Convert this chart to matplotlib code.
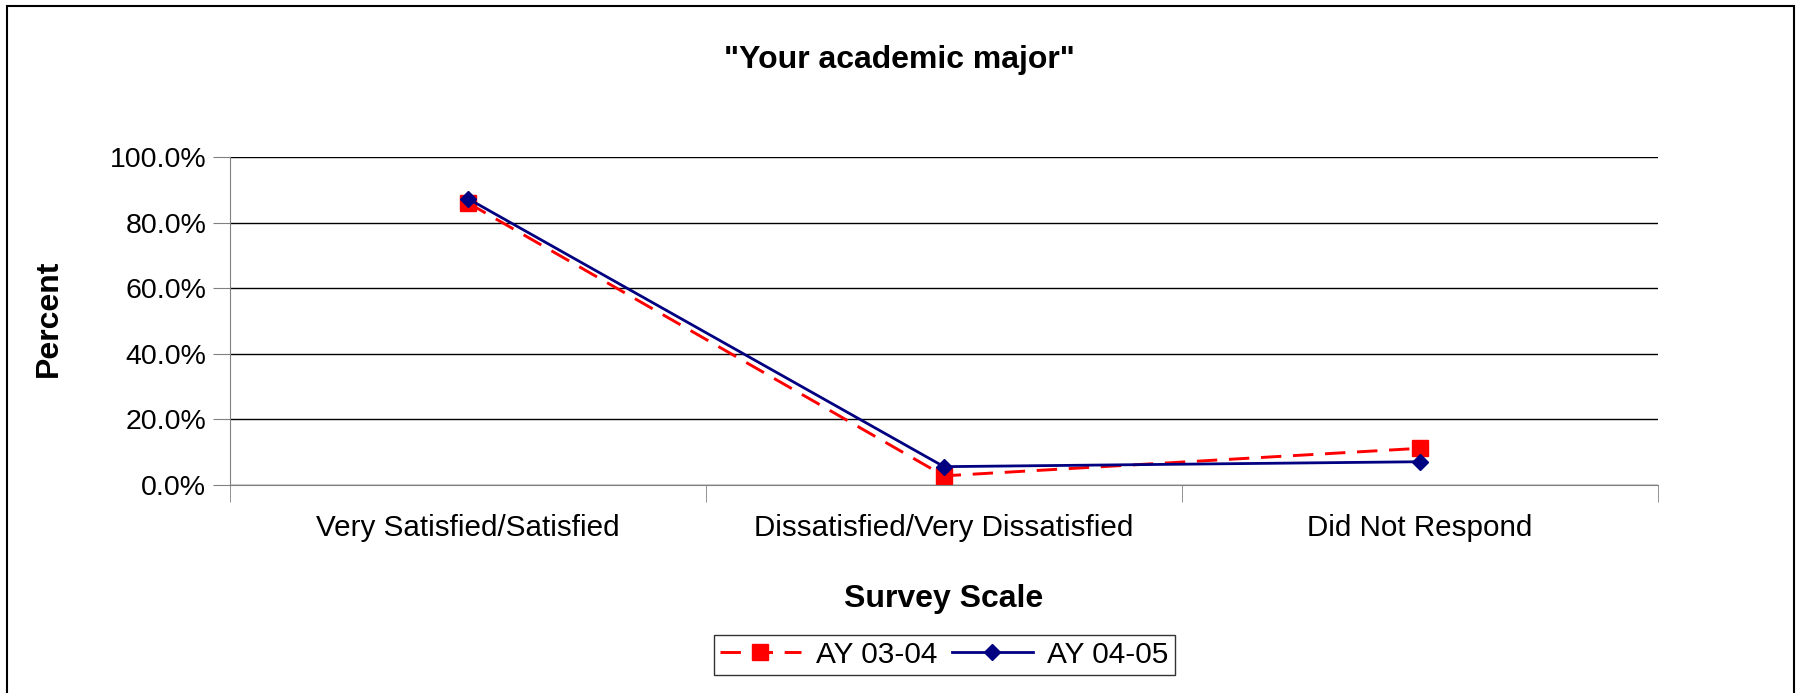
''' Survey chart: "Your academic major" '''

import matplotlib
matplotlib.use('Agg')
import matplotlib.pyplot as plt
from matplotlib.patches import Rectangle
from matplotlib.ticker import FuncFormatter, FixedLocator

categories = ['Very Satisfied/Satisfied', 'Dissatisfied/Very Dissatisfied', 'Did Not Respond']
ay_03_04 = [86.0, 2.8, 11.2]
ay_04_05 = [87.3, 5.6, 7.1]

plt.rcParams['font.family'] = ['Liberation Sans', 'DejaVu Sans']


def plot_data():
    fig = plt.figure(figsize=(17.99, 6.93), dpi=100)
    ax = fig.add_axes([0.1278, 0.3001, 0.7938, 0.4734])

    x = list(range(len(categories)))

    # Gridlines first so the lines sit on top
    ax.set_ylim(0, 100)
    ax.set_xlim(-0.5, len(categories) - 0.5)
    ax.set_yticks([0, 20, 40, 60, 80, 100])
    ax.yaxis.grid(True, color='black', linewidth=1.0)
    ax.set_axisbelow(True)

    ax.plot(x, ay_03_04, color='#FF0000', linestyle=(0, (7, 4)), linewidth=2.1,
            marker='s', markersize=11, markeredgecolor='#FF0000', label='AY 03-04')
    ax.plot(x, ay_04_05, color='#000080', linewidth=2.0,
            marker='D', markersize=8, markeredgecolor='#000080', label='AY 04-05')

    ax.yaxis.set_major_formatter(FuncFormatter(lambda v, p: '%.1f%%' % v))
    ax.set_xticks(x)
    ax.set_xticklabels(categories)
    ax.tick_params(axis='x', length=0, labelsize=21.3, pad=21)
    ax.xaxis.set_minor_locator(FixedLocator([-0.5, 0.5, 1.5, 2.5]))
    ax.tick_params(axis='x', which='minor', length=12, direction='out', color='#808080')
    ax.tick_params(axis='y', length=12, direction='out', labelsize=20.5, color='#808080', pad=5)

    for side in ['top', 'right']:
        ax.spines[side].set_visible(False)
    ax.spines['left'].set_color('#808080')
    ax.spines['bottom'].set_color('#808080')

    plot_center = 0.1278 + 0.7938 / 2
    fig.text(0.5, 0.913, '"Your academic major"', ha='center', va='center',
             fontsize=23, fontweight='bold')
    fig.text(plot_center, 0.136, 'Survey Scale', ha='center', va='center',
             fontsize=23, fontweight='bold')
    fig.text(0.027, 0.54, 'Percent', ha='center', va='center', rotation=90,
             fontsize=23, fontweight='bold')

    leg = fig.legend(loc='center', bbox_to_anchor=(0.525, 0.055), ncol=2,
                     fontsize=21.5, frameon=True, fancybox=False, handlelength=2.7,
                     columnspacing=0.5, handletextpad=0.5, borderpad=0.2,
                     borderaxespad=0)
    leg.get_frame().set_edgecolor('black')
    leg.get_frame().set_linewidth(1.0)

    # Outer chart border (bottom edge falls outside the picture)
    fig.patches.append(Rectangle((0.004, -0.05), 0.993, 1.041, transform=fig.transFigure,
                                 fill=False, edgecolor='black', linewidth=1.5))

    plt.savefig('out.png', dpi=100)


if __name__ == '__main__':
    plot_data()
